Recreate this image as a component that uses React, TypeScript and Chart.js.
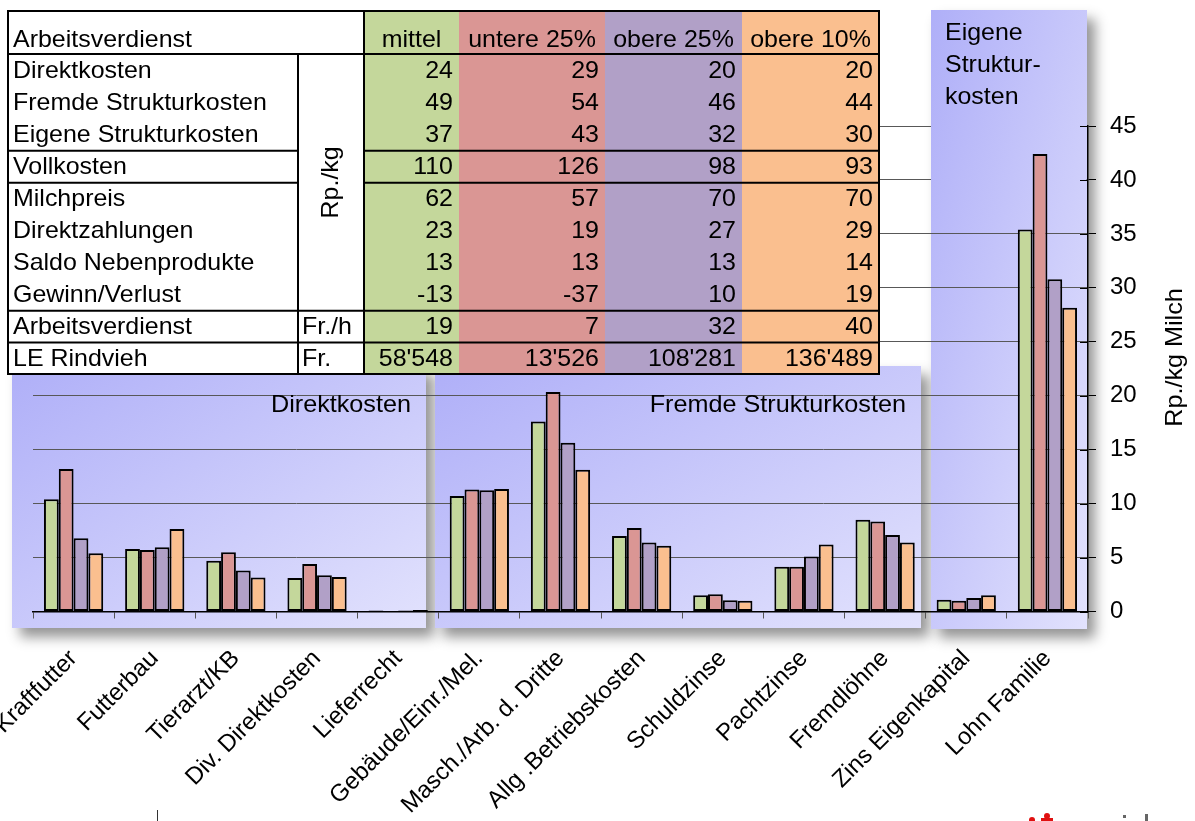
import React, { useEffect, useRef } from 'react';
import { Chart, registerables } from 'chart.js';

Chart.register(...registerables);

// ---------- data ----------
const categories = [
  'Kraftfutter',
  'Futterbau',
  'Tierarzt/KB',
  'Div. Direktkosten',
  'Lieferrecht',
  'Gebäude/Einr./Mel.',
  'Masch./Arb. d. Dritte',
  'Allg .Betriebskosten',
  'Schuldzinse',
  'Pachtzinse',
  'Fremdlöhne',
  'Zins Eigenkapital',
  'Lohn Familie',
];
const seriesNames = ['mittel', 'untere 25%', 'obere 25%', 'obere 10%'];
const mittel = [10.4, 5.8, 4.7, 3.1, 0.1, 10.7, 17.6, 7.0, 1.5, 4.15, 8.5, 1.1, 35.4];
const untere25 = [13.2, 5.7, 5.5, 4.4, 0, 11.3, 20.35, 7.75, 1.6, 4.15, 8.35, 1.0, 42.4];
const obere25 = [6.8, 5.95, 3.8, 3.35, 0.1, 11.25, 15.65, 6.4, 1.05, 5.1, 7.1, 1.25, 30.8];
const obere10 = [5.4, 7.65, 3.15, 3.2, 0.15, 11.35, 13.15, 6.1, 1.0, 6.2, 6.4, 1.5, 28.15];
const seriesColors = ['#c4d79b', '#da9694', '#b1a0c7', '#fabf8f'];

const yMin = 0;
const yMax = 45;
const yStep = 5;
const yTitle = 'Rp./kg Milch';

const panelTitles = ['Direktkosten', 'Fremde Strukturkosten'];
const panelTitle3 = ['Eigene', 'Struktur-', 'kosten'];

// table
const tableTitle = 'Arbeitsverdienst';
const tableRowLabels = [
  'Direktkosten',
  'Fremde Strukturkosten',
  'Eigene Strukturkosten',
  'Vollkosten',
  'Milchpreis',
  'Direktzahlungen',
  'Saldo Nebenprodukte',
  'Gewinn/Verlust',
  'Arbeitsverdienst',
  'LE Rindvieh',
];
const tableUnitMain = 'Rp./kg';
const tableUnitsLast = ['Fr./h', 'Fr.'];
const tableMittel = ['24', '49', '37', '110', '62', '23', '13', '-13', '19', "58'548"];
const tableUntere25 = ['29', '54', '43', '126', '57', '19', '13', '-37', '7', "13'526"];
const tableObere25 = ['20', '46', '32', '98', '70', '27', '13', '10', '32', "108'281"];
const tableObere10 = ['20', '44', '30', '93', '70', '29', '14', '19', '40', "136'489"];

// ---------- layout constants ----------
const W = 1195;
const H = 821;
const FONT = "'Liberation Sans', Arial, sans-serif";
const PLOT_LEFT = 33;
const PLOT_RIGHT = 1088;
const PLOT_TOP = 126;
const PLOT_BOTTOM = 611.5;

const panels = [
  { x: 12, y: 365, w: 414, h: 263 },
  { x: 435, y: 366, w: 486, h: 262 },
  { x: 931, y: 10, w: 156, h: 619 },
];

const colX = [8, 298, 364, 459, 605, 742, 879];
const tableTop = 11;
const rowEdges = [54, 86.2, 118.5, 150.7, 182.7, 214.7, 246.7, 278.7, 310.7, 342.5, 374];

function panelGradient(ctx: CanvasRenderingContext2D, p: { x: number; y: number; w: number; h: number }) {
  const ax = 1 / (2 * p.w);
  const ay = 1 / (2 * p.h);
  const n = ax * ax + ay * ay;
  const g = ctx.createLinearGradient(p.x, p.y, p.x + ax / n, p.y + ay / n);
  g.addColorStop(0, '#afaff8');
  g.addColorStop(1, '#e2e2fd');
  return g;
}

function drawPanel(ctx: CanvasRenderingContext2D, p: { x: number; y: number; w: number; h: number }) {
  ctx.save();
  ctx.shadowColor = 'rgba(0,0,0,0.42)';
  ctx.shadowBlur = 12;
  ctx.shadowOffsetX = 8;
  ctx.shadowOffsetY = 9;
  ctx.fillStyle = panelGradient(ctx, p);
  ctx.fillRect(p.x, p.y, p.w, p.h);
  ctx.restore();
}

function txt(
  ctx: CanvasRenderingContext2D,
  s: string,
  x: number,
  y: number,
  align: CanvasTextAlign,
  sx = 1.04,
  baseline: CanvasTextBaseline = 'middle'
) {
  ctx.save();
  ctx.translate(x, y);
  ctx.scale(sx, 1);
  ctx.textAlign = align;
  ctx.textBaseline = baseline;
  ctx.fillText(s, 0, 0);
  ctx.restore();
}

function drawTable(ctx: CanvasRenderingContext2D) {
  const top = tableTop;
  const bottom = rowEdges[rowEdges.length - 1];
  ctx.save();
  ctx.fillStyle = '#ffffff';
  ctx.fillRect(colX[0], top, colX[2] - colX[0], bottom - top);
  for (let i = 0; i < 4; i++) {
    ctx.fillStyle = seriesColors[i];
    ctx.fillRect(colX[2 + i], top, colX[3 + i] - colX[2 + i], bottom - top);
  }
  ctx.fillStyle = '#000';
  ctx.font = `24px ${FONT}`;
  // header
  txt(ctx, tableTitle, 13, 40, 'left');
  for (let i = 0; i < 4; i++) {
    txt(ctx, seriesNames[i], (colX[2 + i] + colX[3 + i]) / 2, 40, 'center');
  }
  const cols = [tableMittel, tableUntere25, tableObere25, tableObere10];
  for (let r = 0; r < tableRowLabels.length; r++) {
    const cy = (rowEdges[r] + rowEdges[r + 1]) / 2 + 1;
    txt(ctx, tableRowLabels[r], 13, cy, 'left');
    for (let c = 0; c < 4; c++) {
      txt(ctx, cols[c][r], colX[3 + c] - 6, cy, 'right');
    }
  }
  txt(ctx, tableUnitsLast[0], 302, (rowEdges[8] + rowEdges[9]) / 2 + 1, 'left');
  txt(ctx, tableUnitsLast[1], 302, (rowEdges[9] + rowEdges[10]) / 2 + 1, 'left');
  // rotated unit
  ctx.save();
  ctx.translate((colX[1] + colX[2]) / 2, (rowEdges[0] + rowEdges[8]) / 2);
  ctx.rotate(-Math.PI / 2);
  txt(ctx, tableUnitMain, 0, 0, 'center');
  ctx.restore();

  // lines
  ctx.strokeStyle = '#000';
  ctx.lineWidth = 2;
  ctx.strokeRect(colX[0], top, colX[6] - colX[0], bottom - top);
  const hline = (y: number, x0: number, x1: number) => {
    ctx.beginPath();
    ctx.moveTo(x0, y);
    ctx.lineTo(x1, y);
    ctx.stroke();
  };
  const vline = (x: number, y0: number, y1: number) => {
    ctx.beginPath();
    ctx.moveTo(x, y0);
    ctx.lineTo(x, y1);
    ctx.stroke();
  };
  hline(rowEdges[0], colX[0], colX[6]);
  hline(rowEdges[8], colX[0], colX[6]);
  hline(rowEdges[9], colX[0], colX[6]);
  for (const e of [rowEdges[3], rowEdges[4]]) {
    hline(e, colX[0], colX[1]);
    hline(e, colX[2], colX[6]);
  }
  vline(colX[1], rowEdges[0], bottom);
  vline(colX[2], top, bottom);
  ctx.restore();
}

const decorPlugin = {
  id: 'decor',
  beforeDraw(chart: any) {
    const ctx: CanvasRenderingContext2D = chart.ctx;
    ctx.save();
    ctx.fillStyle = '#ffffff';
    ctx.fillRect(0, 0, chart.width, chart.height);
    ctx.restore();
    panels.forEach((p) => drawPanel(ctx, p));
  },
  beforeDatasetsDraw(chart: any) {
    const ctx: CanvasRenderingContext2D = chart.ctx;
    const p = panels[2];
    ctx.save();
    ctx.beginPath();
    ctx.rect(p.x, p.y, p.w - 0.5, 205 - p.y);
    ctx.clip();
    ctx.fillStyle = panelGradient(ctx, p);
    ctx.fillRect(p.x, p.y, p.w, p.h);
    ctx.restore();
    // inner tick marks on y axis
    const ys = chart.scales.y;
    ctx.save();
    ctx.strokeStyle = '#000';
    ctx.lineWidth = 1;
    for (let v = yMin; v <= yMax; v += yStep) {
      const py = Math.round(ys.getPixelForValue(v)) + 0.5;
      ctx.beginPath();
      ctx.moveTo(chart.chartArea.right - 8, py);
      ctx.lineTo(chart.chartArea.right, py);
      ctx.stroke();
    }
    ctx.restore();
  },
  afterDraw(chart: any) {
    const ctx: CanvasRenderingContext2D = chart.ctx;
    ctx.save();
    ctx.fillStyle = '#000';
    ctx.font = `24px ${FONT}`;
    txt(ctx, panelTitles[0], 411, 405, 'right', 1.05);
    txt(ctx, panelTitles[1], 906, 405, 'right', 1.05);
    txt(ctx, panelTitle3[0], 945, 40, 'left', 1.04, 'alphabetic');
    txt(ctx, panelTitle3[1], 945, 72, 'left', 1.04, 'alphabetic');
    txt(ctx, panelTitle3[2], 945, 104, 'left', 1.04, 'alphabetic');
    // y axis title
    ctx.save();
    ctx.translate(1175, 357.5);
    ctx.rotate(-Math.PI / 2);
    txt(ctx, yTitle, 0, 0, 'center', 1.05);
    ctx.restore();
    ctx.restore();

    drawTable(ctx);

    // cropped remnants at the bottom edge of the slide
    ctx.save();
    ctx.strokeStyle = '#333';
    ctx.lineWidth = 1;
    ctx.beginPath();
    ctx.moveTo(157.5, 810);
    ctx.lineTo(157.5, 821);
    ctx.stroke();
    ctx.fillStyle = '#e01010';
    ctx.beginPath();
    ctx.arc(1032, 820, 3, 0, Math.PI * 2);
    ctx.fill();
    ctx.beginPath();
    ctx.arc(1047, 816, 3, 0, Math.PI * 2);
    ctx.fill();
    ctx.fillRect(1041, 818, 12, 3);
    ctx.fillStyle = '#666';
    ctx.fillRect(1123, 815, 3, 3);
    ctx.fillRect(1145, 814, 3, 7);
    ctx.restore();
  },
};

export default function App() {
  const ref = useRef<HTMLCanvasElement | null>(null);

  useEffect(() => {
    if (!ref.current) return;
    Chart.defaults.font.family = FONT;
    const series = [mittel, untere25, obere25, obere10];
    const chart = new Chart(ref.current, {
      type: 'bar',
      data: {
        labels: categories,
        datasets: series.map((d, i) => ({
          label: seriesNames[i],
          data: d,
          backgroundColor: seriesColors[i],
          borderColor: '#000',
          borderWidth: 2,
          borderSkipped: false,
          categoryPercentage: 0.73,
          barPercentage: 1,
        })),
      },
      options: {
        responsive: false,
        animation: false,
        layout: { padding: { top: PLOT_TOP, left: PLOT_LEFT, right: 0, bottom: 0 } },
        plugins: {
          legend: { display: false },
          tooltip: { enabled: false },
          title: { display: false },
        },
        scales: {
          x: {
            offset: true,
            grid: {
              offset: true,
              drawOnChartArea: false,
              drawTicks: true,
              tickLength: 7,
              color: '#555',
              lineWidth: 1,
            },
            border: { display: true, color: '#000', width: 1.5 },
            ticks: {
              autoSkip: false,
              minRotation: 45,
              maxRotation: 45,
              padding: 26,
              color: '#000',
              font: { size: 24, family: FONT },
            },
            afterFit: (s: any) => {
              s.height = H - PLOT_BOTTOM;
              s.paddingLeft = 0;
              s.paddingRight = 0;
            },
          },
          y: {
            position: 'right',
            min: yMin,
            max: yMax,
            ticks: {
              stepSize: yStep,
              padding: 14,
              color: '#000',
              font: { size: 24, family: FONT },
            },
            grid: {
              color: '#585858',
              lineWidth: 1,
              tickLength: 8,
              tickColor: '#000',
            },
            border: { display: true, color: '#000', width: 1.5 },
            afterFit: (s: any) => {
              s.width = W - PLOT_RIGHT;
              s.paddingTop = 0;
              s.paddingBottom = 0;
            },
          },
        },
      },
      plugins: [decorPlugin],
    } as any);
    return () => chart.destroy();
  }, []);

  return (
    <div style={{ position: 'fixed', left: 0, top: 0, width: W, height: H, background: '#fff' }}>
      <canvas ref={ref} width={W} height={H} style={{ display: 'block', width: W, height: H }} />
    </div>
  );
}
